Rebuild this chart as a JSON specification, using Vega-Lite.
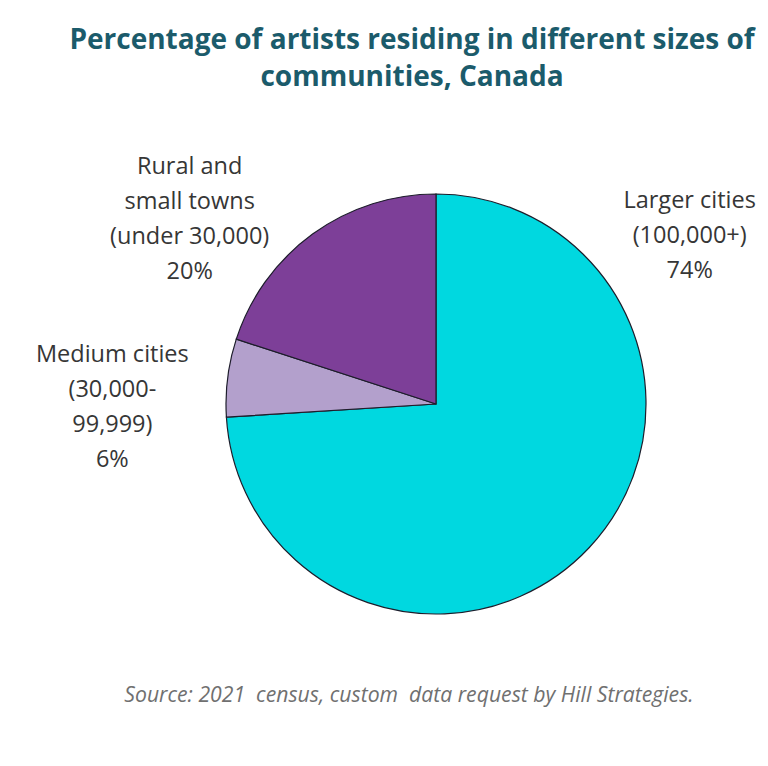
{
  "$schema": "https://vega.github.io/schema/vega-lite/v6.json",
  "background": "white",
  "padding": {"left": 35, "top": 27, "right": 0, "bottom": 0},
  "config": {"view": {"stroke": null}, "font": "Open Sans"},
  "title": {
    "text": "Source: 2021\u00a0 census, custom\u00a0 data request by Hill Strategies.",
    "orient": "bottom",
    "anchor": "middle",
    "font": "Open Sans",
    "fontStyle": "italic",
    "fontWeight": "normal",
    "fontSize": 21.2,
    "color": "#707070",
    "offset": 69,
    "dx": 13
  },
  "vconcat": [
    {
      "width": 420,
      "height": 420,
      "title": {
        "text": ["Percentage of artists residing in different sizes of", "communities, Canada"],
        "frame": "group",
        "anchor": "middle",
        "dx": -24,
        "offset": 63,
        "font": "Open Sans",
        "fontSize": 28,
        "fontWeight": "bold",
        "lineHeight": 37,
        "color": "#1B5B6B"
      },
      "data": {
        "values": [
          {"community": "Larger cities\n(100,000+)", "share": 74},
          {"community": "Medium cities\n(30,000-\n99,999)", "share": 6},
          {"community": "Rural and\nsmall towns\n(under 30,000)", "share": 20}
        ]
      },
      "transform": [
        {"calculate": "datum.community + '\\n' + datum.share + '%'", "as": "label"}
      ],
      "encoding": {
        "theta": {"field": "share", "type": "quantitative", "stack": true},
        "order": {"field": "community", "sort": "ascending"}
      },
      "layer": [
        {
          "mark": {"type": "arc", "stroke": "#1d1d2b", "strokeWidth": 1.2},
          "encoding": {
            "color": {
              "field": "community",
              "type": "nominal",
              "scale": {
                "domain": ["Larger cities\n(100,000+)", "Medium cities\n(30,000-\n99,999)", "Rural and\nsmall towns\n(under 30,000)"],
                "range": ["#00D8E0", "#B3A0CC", "#7D3F98"]
              },
              "legend": null
            }
          }
        },
        {
          "mark": {
            "type": "text",
            "radius": 300,
            "lineBreak": "\n",
            "align": "center",
            "baseline": "middle",
            "fontSize": 23.5,
            "lineHeight": 35,
            "color": "#363636",
            "dx": {"expr": "indexof(datum.community, 'Larger') === 0 ? 35 : indexof(datum.community, 'Rural') === 0 ? -70 : -26"},
            "dy": {"expr": "indexof(datum.community, 'Larger') === 0 ? -408 : indexof(datum.community, 'Rural') === 0 ? 6 : -11"}
          },
          "encoding": {
            "text": {"field": "label", "type": "nominal"},
            "detail": {"field": "community", "type": "nominal"}
          }
        }
      ]
    }
  ]
}
